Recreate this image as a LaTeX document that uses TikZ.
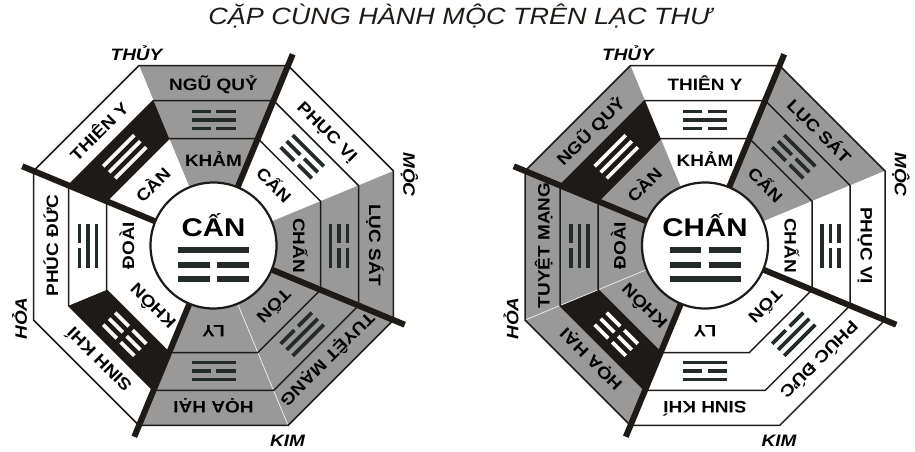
\documentclass[tikz,border=0pt]{standalone}
\usepackage{fontspec}
\setmainfont{Liberation Sans}
\newfontfamily\widesans[FakeStretch=1.15]{Liberation Sans}
\usetikzlibrary{positioning}
\definecolor{sectgray}{RGB}{153,153,153}
\definecolor{bandblack}{RGB}{30,26,24}
\definecolor{trigline}{RGB}{35,42,42}

\begin{document}
\begin{tikzpicture}[x=1pt, y=1pt,
    ringtext/.style  = {inner sep=0pt, anchor=base,
                        font={\widesans\bfseries\fontsize{16.5}{17}\selectfont}},
    hubtext/.style   = {inner sep=0pt, anchor=base,
                        font={\widesans\bfseries\fontsize{25.6}{26}\selectfont}},
    elemtext/.style  = {inner sep=0pt,
                        font={\widesans\bfseries\itshape\fontsize{16.5}{17}\selectfont}},
    titletext/.style = {inner sep=0pt, anchor=base, text=bandblack,
                        font={\widesans\itshape\fontsize{23.5}{24}\selectfont}},
    rimline/.style   = {bandblack, line width=1.5pt, line join=miter},
    seamline/.style  = {white!85!sectgray, line width=0.7pt},
    splitline/.style = {bandblack, line width=6pt},
    hubring/.style   = {draw=bandblack, fill=white, line width=2.2pt},
    trigbar/.style   = {line width=3.6pt},
    hubbar/.style    = {trigline, line width=6pt}
  ]
  \useasboundingbox (0,0) rectangle (915,451);
  \node[titletext] (title) at (460,426) {CẶP CÙNG HÀNH MỘC TRÊN LẠC THƯ};

  % left chart (Can)
  \begin{scope}[shift={(213.5,205.5)}]
    \foreach \ang/\otext/\ofill/\mfill/\lcol/\itext/\ifill/\ta/\tb/\tc [count=\k] in {
        90/NGŨ QUỶ/sectgray/sectgray/trigline/KHẢM/sectgray/0/1/0,
        45/PHỤC VỊ/white/white/trigline/CẤN/white/1/0/0,
        0/LỤC SÁT/sectgray/sectgray/trigline/CHẤN/sectgray/0/0/1,
        -45/TUYỆT MẠNG/sectgray/sectgray/trigline/TỐN/sectgray/1/1/0,
        -90/HỌA HẠI/sectgray/sectgray/trigline/LY/sectgray/1/0/1,
        -135/SINH KHÍ/white/bandblack/white/KHÔN/white/0/0/0,
        180/PHÚC ĐỨC/white/white/trigline/ĐOÀI/white/0/1/1,
        135/THIÊN Y/white/bandblack/white/CÀN/white/1/1/1}
    {
      \begin{scope}[rotate=\ang-90, transform shape]
        \fill[\ofill] (-74.56,180) -- (74.56,180) -- (60.06,145) -- (-60.06,145) -- cycle;
        \fill[\mfill] (-60.06,145) -- (60.06,145) -- (44.32,107) -- (-44.32,107) -- cycle;
        \fill[\ifill] (-44.32,107) -- (44.32,107) -- (0,0) -- cycle;
        \foreach \bit [count=\j from 0] in {\ta,\tb,\tc}
        {
          \ifnum\bit=1
            \draw[trigbar,\lcol] (-22,{134-8.5*\j}) -- (22,{134-8.5*\j});
          \else
            \draw[trigbar,\lcol] (-22,{134-8.5*\j}) -- (-2.8,{134-8.5*\j})
                                 (2.8,{134-8.5*\j}) -- (22,{134-8.5*\j});
          \fi
        }
        \node[ringtext] (L\k-out) at (0,155.5) {\otext};
        \node[ringtext] (L\k-in)  at (0,79.5)  {\itext};
      \end{scope}
    }
  \end{scope}

  % right chart (Chan)
  \begin{scope}[shift={(705,205.5)}]
    \foreach \ang/\otext/\ofill/\mfill/\lcol/\itext/\ifill/\ta/\tb/\tc [count=\k] in {
        90/THIÊN Y/white/white/trigline/KHẢM/white/0/1/0,
        45/LỤC SÁT/sectgray/sectgray/trigline/CẤN/sectgray/1/0/0,
        0/PHỤC VỊ/white/white/trigline/CHẤN/white/0/0/1,
        -45/PHÚC ĐỨC/white/white/trigline/TỐN/white/1/1/0,
        -90/SINH KHÍ/white/white/trigline/LY/white/1/0/1,
        -135/HỌA HẠI/sectgray/bandblack/white/KHÔN/sectgray/0/0/0,
        180/TUYỆT MẠNG/sectgray/sectgray/trigline/ĐOÀI/sectgray/0/1/1,
        135/NGŨ QUỶ/sectgray/bandblack/white/CÀN/sectgray/1/1/1}
    {
      \begin{scope}[rotate=\ang-90, transform shape]
        \fill[\ofill] (-74.56,180) -- (74.56,180) -- (60.06,145) -- (-60.06,145) -- cycle;
        \fill[\mfill] (-60.06,145) -- (60.06,145) -- (44.32,107) -- (-44.32,107) -- cycle;
        \fill[\ifill] (-44.32,107) -- (44.32,107) -- (0,0) -- cycle;
        \foreach \bit [count=\j from 0] in {\ta,\tb,\tc}
        {
          \ifnum\bit=1
            \draw[trigbar,\lcol] (-22,{134-8.5*\j}) -- (22,{134-8.5*\j});
          \else
            \draw[trigbar,\lcol] (-22,{134-8.5*\j}) -- (-2.8,{134-8.5*\j})
                                 (2.8,{134-8.5*\j}) -- (22,{134-8.5*\j});
          \fi
        }
        \node[ringtext] (R\k-out) at (0,155.5) {\otext};
        \node[ringtext] (R\k-in)  at (0,79.5)  {\itext};
      \end{scope}
    }
  \end{scope}

  % rims, element splits, hub circle and element names for both charts
  \foreach \cx/\side/\seam in {213.5/L/292.5, 705/R/202.5}
  {
    \begin{scope}[shift={(\cx,205.5)}]
      \draw[seamline] (\seam:63) -- (\seam:194.8);
      \foreach \ap in {180,145,107}
        \draw[rimline] (22.5:{\ap*1.08239})
          \foreach \v in {67.5,112.5,157.5,202.5,247.5,292.5,337.5}{ -- (\v:{\ap*1.08239})} -- cycle;
      \foreach \v in {67.5,157.5,247.5,337.5}
        \draw[splitline] (\v:60) -- (\v:207);
      \draw[hubring] (0,0) circle (63);
      \node[elemtext] (\side-thuy) at (-77,192) {THỦY};
      \node[elemtext, rotate=-90] (\side-moc) at (196,71) {MỘC};
      \node[elemtext] (\side-kim) at (74,-195) {KIM};
      \node[elemtext, rotate=90] (\side-hoa) at (-194,-73) {HỎA};
    \end{scope}
  }

  % hubs
  \begin{scope}[shift={(213.5,205.5)}]
    \node[hubtext] (Lhub) at (0,8.8) {CẤN};
    \draw[hubbar] (-35.5,-4.8) -- (35.5,-4.8);
    \draw[hubbar] (-35.5,-19.5) -- (-3.7,-19.5) (3.7,-19.5) -- (35.5,-19.5);
    \draw[hubbar] (-35.5,-33.2) -- (-3.7,-33.2) (3.7,-33.2) -- (35.5,-33.2);
  \end{scope}
  \begin{scope}[shift={(705,205.5)}]
    \node[hubtext] (Rhub) at (0,8.8) {CHẤN};
    \draw[hubbar] (-35.5,-4.8) -- (-3.7,-4.8) (3.7,-4.8) -- (35.5,-4.8);
    \draw[hubbar] (-35.5,-19.5) -- (-3.7,-19.5) (3.7,-19.5) -- (35.5,-19.5);
    \draw[hubbar] (-35.5,-33.2) -- (35.5,-33.2);
  \end{scope}
\end{tikzpicture}
\end{document}
